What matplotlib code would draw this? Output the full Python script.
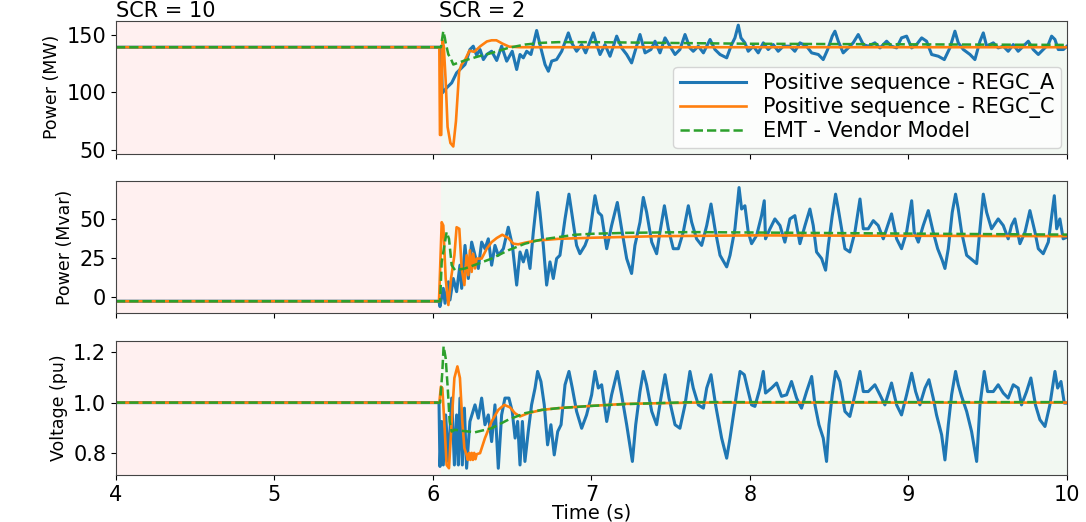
import matplotlib
matplotlib.use("Agg")
from matplotlib import pyplot as plt

# Active power (MW)
p_a_t = [4.0, 6.050, 6.059, 6.086, 6.118, 6.149, 6.181, 6.202, 6.219, 6.233, 6.254, 6.275, 6.297, 6.318,
         6.339, 6.370, 6.402, 6.433, 6.465, 6.500, 6.528, 6.549, 6.570, 6.591, 6.618, 6.654, 6.675, 6.707,
         6.728, 6.749, 6.780, 6.812, 6.854, 6.875, 6.906, 6.938, 6.963, 7.012, 7.033, 7.054, 7.085, 7.117,
         7.159, 7.190, 7.222, 7.253, 7.306, 7.338, 7.375, 7.401, 7.432, 7.464, 7.495, 7.527, 7.558, 7.590,
         7.621, 7.642, 7.674, 7.706, 7.748, 7.779, 7.811, 7.853, 7.884, 7.905, 7.926, 7.943, 7.968, 7.989,
         8.021, 8.052, 8.084, 8.115, 8.147, 8.178, 8.210, 8.252, 8.283, 8.315, 8.357, 8.389, 8.431, 8.462,
         8.490, 8.519, 8.536, 8.557, 8.588, 8.620, 8.651, 8.683, 8.715, 8.746, 8.788, 8.820, 8.862, 8.893,
         8.925, 8.956, 8.988, 9.020, 9.051, 9.083, 9.114, 9.146, 9.188, 9.226, 9.261, 9.293, 9.314, 9.346,
         9.388, 9.419, 9.451, 9.472, 9.493, 9.535, 9.566, 9.598, 9.629, 9.661, 9.692, 9.724, 9.756, 9.787,
         9.819, 9.850, 9.882, 9.903, 9.924, 9.945, 9.977, 10.0]
p_a = [139.0, 139.0, 99.4, 103.8, 108.1, 116.8, 121.1, 124.0, 131.2, 137.0, 139.9, 132.1, 137.0, 128.3,
       132.7, 135.5, 127.5, 139.9, 126.9, 135.5, 119.7, 132.7, 129.8, 135.5, 132.7, 153.5, 141.3, 124.0,
       118.2, 127.0, 128.3, 135.5, 151.4, 142.8, 135.5, 141.3, 134.1, 151.4, 141.3, 132.7, 141.3, 131.2,
       148.6, 138.4, 132.7, 125.4, 150.0, 134.1, 137.0, 144.2, 134.1, 147.1, 139.9, 132.7, 137.0, 150.0,
       138.4, 135.5, 139.9, 134.1, 145.7, 137.0, 132.7, 129.8, 141.3, 147.1, 158.1, 147.1, 142.8, 135.5,
       139.9, 134.1, 142.8, 137.0, 141.3, 135.5, 139.9, 139.9, 135.5, 142.8, 139.9, 134.1, 132.7, 128.3,
       137.0, 148.6, 152.9, 144.2, 134.1, 138.4, 142.8, 150.0, 141.3, 139.9, 142.8, 138.4, 144.2, 139.9,
       138.4, 147.1, 148.6, 138.4, 141.3, 147.1, 144.2, 132.7, 131.2, 128.3, 138.4, 152.9, 142.8, 137.0,
       132.7, 128.3, 144.2, 151.4, 139.9, 142.8, 138.4, 139.9, 135.5, 141.3, 135.5, 139.9, 144.2, 137.0,
       132.7, 137.0, 141.3, 148.6, 145.7, 137.0, 137.0, 139.9]
p_c_t = [4.0, 6.040, 6.044, 6.052, 6.060, 6.068, 6.080, 6.092, 6.110, 6.128, 6.145, 6.165, 6.180, 6.202,
         6.230, 6.260, 6.300, 6.340, 6.370, 6.400, 6.440, 6.480, 6.550, 10.0]
p_c = [139.0, 139.0, 63.0, 63.0, 145.0, 140.0, 110.0, 70.0, 56.0, 53.0, 75.0, 118.0, 124.0, 128.0,
       136.0, 135.0, 140.0, 144.0, 145.0, 145.0, 142.0, 139.5, 139.0, 139.0]
p_emt_t = [4.0, 6.050, 6.065, 6.075, 6.080, 6.097, 6.110, 6.128, 6.200, 6.285, 6.370, 6.475, 6.580,
           6.686, 6.790, 7.000, 8.000, 9.000, 10.0]
p_emt = [139.0, 139.0, 152.9, 147.0, 142.8, 132.7, 130.0, 124.0, 127.5, 131.0, 134.0, 138.4, 141.3,
         142.8, 143.4, 143.4, 142.0, 141.5, 141.0]

# Reactive power (Mvar)
q_a_t = [4.0, 6.038, 6.044, 6.065, 6.076, 6.097, 6.107, 6.128, 6.149, 6.170, 6.181, 6.202, 6.223, 6.244,
         6.265, 6.286, 6.307, 6.328, 6.349, 6.370, 6.391, 6.412, 6.444, 6.475, 6.501, 6.528, 6.549, 6.570,
         6.591, 6.612, 6.633, 6.660, 6.675, 6.696, 6.717, 6.738, 6.759, 6.780, 6.801, 6.833, 6.858, 6.875,
         6.906, 6.927, 6.959, 6.990, 7.022, 7.043, 7.064, 7.096, 7.127, 7.163, 7.190, 7.222, 7.253, 7.274,
         7.306, 7.327, 7.348, 7.380, 7.411, 7.432, 7.460, 7.485, 7.516, 7.548, 7.579, 7.611, 7.632, 7.663,
         7.695, 7.727, 7.754, 7.779, 7.811, 7.853, 7.874, 7.905, 7.931, 7.947, 7.968, 7.989, 8.010, 8.042,
         8.073, 8.090, 8.098, 8.126, 8.157, 8.189, 8.220, 8.252, 8.283, 8.315, 8.347, 8.378, 8.399, 8.420,
         8.452, 8.477, 8.494, 8.519, 8.540, 8.557, 8.578, 8.599, 8.630, 8.662, 8.694, 8.715, 8.746, 8.778,
         8.809, 8.841, 8.862, 8.893, 8.925, 8.956, 8.988, 9.020, 9.036, 9.062, 9.093, 9.125, 9.156, 9.184,
         9.213, 9.230, 9.251, 9.276, 9.297, 9.314, 9.335, 9.367, 9.430, 9.451, 9.472, 9.493, 9.524, 9.566,
         9.598, 9.629, 9.650, 9.671, 9.703, 9.735, 9.766, 9.798, 9.819, 9.850, 9.882, 9.920, 9.935, 9.955,
         9.976, 10.0]
q_a = [-2.5, -2.5, -5.9, 5.7, -3.8, 9.9, -1.7, 12.0, 3.6, 20.5, 5.7, 33.1, 12.0, 35.2,
       26.8, 18.4, 35.2, 31.0, 37.3, 20.5, 33.1, 26.8, 31.0, 44.7, 33.1, 7.8, 28.9, 22.6,
       30.0, 18.4, 41.6, 66.9, 54.2, 33.1, 7.8, 22.6, 12.0, 24.7, 26.8, 50.0, 65.8, 54.2,
       33.1, 27.8, 33.1, 41.6, 64.8, 54.2, 52.1, 31.0, 45.8, 60.5, 43.7, 24.7, 15.2, 33.1,
       47.9, 63.7, 54.2, 35.2, 27.8, 41.6, 58.4, 43.7, 31.0, 31.0, 41.6, 58.4, 47.9, 37.3,
       33.1, 45.8, 59.5, 43.7, 26.8, 19.4, 26.8, 43.7, 70.0, 56.3, 58.4, 41.6, 34.2, 39.5,
       52.1, 61.6, 37.3, 43.7, 50.0, 45.8, 35.2, 50.0, 52.1, 34.2, 45.8, 56.3, 45.8, 28.9,
       24.7, 17.3, 33.1, 52.1, 65.8, 56.3, 43.7, 31.0, 28.9, 41.6, 62.7, 43.7, 43.7, 48.9,
       45.8, 37.3, 43.7, 53.2, 37.3, 31.0, 41.6, 61.6, 41.6, 35.2, 45.8, 55.3, 41.6, 31.0,
       23.6, 18.4, 31.0, 54.2, 65.8, 56.3, 41.6, 26.8, 21.5, 43.7, 65.8, 54.2, 43.7, 50.0,
       45.8, 37.3, 45.8, 50.0, 34.2, 41.6, 55.3, 41.6, 31.0, 27.8, 35.2, 64.8, 43.7, 50.0,
       37.3, 38.4]
q_c_t = [4.0, 6.038, 6.055, 6.065, 6.080, 6.097, 6.114, 6.135, 6.149, 6.166, 6.181, 6.198, 6.212, 6.223,
         6.233, 6.244, 6.254, 6.265, 6.275, 6.307, 6.339, 6.370, 6.402, 6.437, 6.475, 6.507, 6.538, 6.580,
         6.644, 6.791, 7.001, 7.422, 8.030, 10.0]
q_c = [-2.5, -2.5, 47.9, 45.8, 12.0, -4.9, 12.0, 26.8, 44.7, 43.7, 18.4, 7.8, 26.8, 14.1,
       30.0, 16.2, 27.8, 18.4, 24.7, 24.7, 31.0, 35.2, 37.8, 39.9, 37.8, 34.2, 33.8, 34.8,
       36.1, 37.3, 38.0, 39.0, 39.5, 39.0]
q_emt_t = [4.0, 6.045, 6.055, 6.072, 6.086, 6.101, 6.118, 6.139, 6.202, 6.286, 6.370, 6.475, 6.580,
           6.686, 6.791, 6.896, 7.001, 7.211, 7.632, 8.500, 9.200, 10.0]
q_emt = [-2.5, -2.5, 22.6, 33.1, 41.6, 37.3, 20.5, 17.3, 18.4, 21.5, 24.7, 30.0, 34.2,
         36.9, 38.4, 39.9, 40.5, 41.1, 41.6, 41.0, 40.5, 40.0]

# Terminal voltage (pu)
v_a_t = [4.0, 6.038, 6.044, 6.055, 6.065, 6.080, 6.097, 6.118, 6.135, 6.149, 6.160, 6.170, 6.185, 6.198,
         6.212, 6.233, 6.265, 6.286, 6.307, 6.328, 6.349, 6.370, 6.391, 6.412, 6.433, 6.454, 6.479, 6.500,
         6.518, 6.534, 6.549, 6.564, 6.580, 6.601, 6.622, 6.644, 6.660, 6.681, 6.702, 6.723, 6.744, 6.765,
         6.787, 6.808, 6.833, 6.858, 6.879, 6.906, 6.938, 6.969, 7.001, 7.022, 7.043, 7.064, 7.096, 7.127,
         7.163, 7.190, 7.222, 7.258, 7.279, 7.306, 7.327, 7.348, 7.380, 7.411, 7.438, 7.464, 7.489, 7.527,
         7.558, 7.590, 7.621, 7.642, 7.674, 7.706, 7.727, 7.754, 7.783, 7.821, 7.853, 7.874, 7.905, 7.937,
         7.964, 7.989, 8.010, 8.031, 8.063, 8.084, 8.098, 8.136, 8.168, 8.199, 8.231, 8.262, 8.294, 8.325,
         8.357, 8.389, 8.410, 8.435, 8.462, 8.483, 8.498, 8.519, 8.540, 8.567, 8.599, 8.630, 8.662, 8.694,
         8.715, 8.746, 8.788, 8.820, 8.851, 8.893, 8.925, 8.956, 8.988, 9.020, 9.045, 9.072, 9.104, 9.129,
         9.156, 9.177, 9.209, 9.230, 9.251, 9.272, 9.297, 9.314, 9.335, 9.367, 9.398, 9.430, 9.451, 9.478,
         9.499, 9.535, 9.566, 9.598, 9.629, 9.661, 9.692, 9.713, 9.745, 9.772, 9.801, 9.829, 9.861, 9.892,
         9.924, 9.941, 9.962, 9.983, 10.0]
v_a = [1.0, 1.0, 0.746, 0.925, 0.752, 0.951, 0.766, 1.018, 0.752, 0.951, 0.752, 1.018, 0.752, 0.978,
       0.739, 0.925, 0.991, 0.938, 1.018, 0.912, 0.951, 0.845, 0.991, 0.739, 0.951, 1.018, 1.018, 0.965,
       0.859, 0.925, 0.752, 0.925, 0.766, 0.885, 0.991, 1.058, 1.124, 1.084, 0.991, 0.832, 0.912, 0.792,
       0.885, 0.912, 1.071, 1.124, 1.058, 0.965, 0.898, 0.951, 1.031, 1.124, 1.058, 1.071, 0.925, 1.031,
       1.124, 1.031, 0.912, 0.766, 0.912, 1.044, 1.124, 1.071, 0.965, 0.912, 1.018, 1.111, 1.018, 0.912,
       0.898, 0.991, 1.124, 1.058, 0.991, 0.978, 1.058, 1.111, 0.991, 0.859, 0.779, 0.859, 0.991, 1.124,
       1.111, 1.044, 0.991, 0.985, 1.058, 1.124, 1.038, 1.058, 1.078, 1.025, 1.031, 1.084, 1.018, 0.978,
       1.044, 1.104, 0.991, 0.912, 0.859, 0.766, 0.912, 1.031, 1.124, 1.084, 0.965, 0.945, 1.031, 1.124,
       1.044, 1.044, 1.071, 1.031, 0.991, 1.078, 0.991, 0.951, 1.031, 1.117, 1.044, 0.991, 1.058, 1.091,
       1.018, 0.951, 0.872, 0.772, 0.912, 1.031, 1.124, 1.071, 1.025, 0.965, 0.885, 0.766, 0.991, 1.124,
       1.044, 1.044, 1.071, 1.038, 1.018, 1.071, 1.058, 0.991, 1.044, 1.098, 0.991, 0.932, 0.905, 0.991,
       1.124, 1.058, 1.084, 0.998, 0.998]
v_c_t = [4.0, 6.040, 6.050, 6.059, 6.071, 6.086, 6.101, 6.118, 6.135, 6.154, 6.170, 6.185, 6.198, 6.212,
         6.220, 6.228, 6.236, 6.244, 6.252, 6.260, 6.268, 6.276, 6.297, 6.328, 6.370, 6.412, 6.450, 6.486,
         6.517, 6.549, 6.601, 6.686, 6.791, 7.001, 7.211, 7.632, 10.0]
v_c = [1.0, 1.0, 1.064, 1.058, 0.925, 0.752, 0.739, 0.925, 1.098, 1.144, 1.098, 0.925, 0.819, 0.792,
       0.772, 0.800, 0.772, 0.800, 0.772, 0.800, 0.775, 0.795, 0.799, 0.859, 0.925, 0.971, 0.991, 0.981,
       0.958, 0.945, 0.958, 0.971, 0.978, 0.987, 0.995, 1.0, 1.0]
v_emt_t = [4.0, 6.045, 6.059, 6.067, 6.080, 6.093, 6.105, 6.118, 6.139, 6.181, 6.265, 6.370, 6.475,
           6.580, 6.686, 6.791, 7.001, 7.211, 7.632, 10.0]
v_emt = [1.0, 1.0, 1.124, 1.224, 1.177, 1.058, 0.925, 0.885, 0.892, 0.888, 0.882, 0.898, 0.932,
         0.958, 0.971, 0.978, 0.987, 0.994, 1.002, 1.002]

t_switch = 6.05
labels = ["Positive sequence - REGC_A", "Positive sequence - REGC_C", "EMT - Vendor Model"]

panels = [
    ("Power (MW)", (p_a_t, p_a), (p_c_t, p_c), (p_emt_t, p_emt), (46.5, 162), [50, 100, 150]),
    ("Power (Mvar)", (q_a_t, q_a), (q_c_t, q_c), (q_emt_t, q_emt), (-10, 74), [0, 25, 50]),
    ("Voltage (pu)", (v_a_t, v_a), (v_c_t, v_c), (v_emt_t, v_emt), (0.712, 1.245), [0.8, 1.0, 1.2]),
]

fig = plt.figure(figsize=(10.86, 5.22), dpi=100)
rects = [[0.1068, 0.705, 0.8757, 0.2554],
         [0.1068, 0.4004, 0.8757, 0.2523],
         [0.1068, 0.090, 0.8757, 0.2567]]

axes = []
for rect, (ylab, a, c, emt, ylim, yticks) in zip(rects, panels):
    ax = fig.add_axes(rect, sharex=axes[0] if axes else None)
    ax.axvspan(4, t_switch, color="red", alpha=0.06, lw=0)
    ax.axvspan(t_switch, 10, color="green", alpha=0.05, lw=0)
    ax.plot(a[0], a[1], color="tab:blue", lw=2.2, label=labels[0])
    ax.plot(c[0], c[1], color="tab:orange", lw=1.9, label=labels[1])
    ax.plot(emt[0], emt[1], color="tab:green", lw=1.8, ls="--", label=labels[2])
    ax.set_ylim(*ylim)
    ax.set_yticks(yticks)
    ax.set_ylabel(ylab, fontsize=12.5)
    ax.tick_params(labelsize=15)
    for s in ax.spines.values():
        s.set_color("#444444")
    axes.append(ax)

axes[0].set_xlim(4, 10)
axes[0].set_xticks([4, 5, 6, 7, 8, 9, 10])
for ax in axes[:2]:
    ax.tick_params(labelbottom=False)
axes[2].set_xlabel("Time (s)", fontsize=14, labelpad=-1)

axes[0].text(4.0, 162, "SCR = 10", fontsize=15, va="bottom", ha="left")
axes[0].text(6.04, 162, "SCR = 2", fontsize=15, va="bottom", ha="left")

axes[0].legend(loc="lower right", fontsize=15, borderaxespad=0.3, labelspacing=0.15,
               handlelength=3.2, borderpad=0.3)

fig.savefig("out.png", dpi=100)
